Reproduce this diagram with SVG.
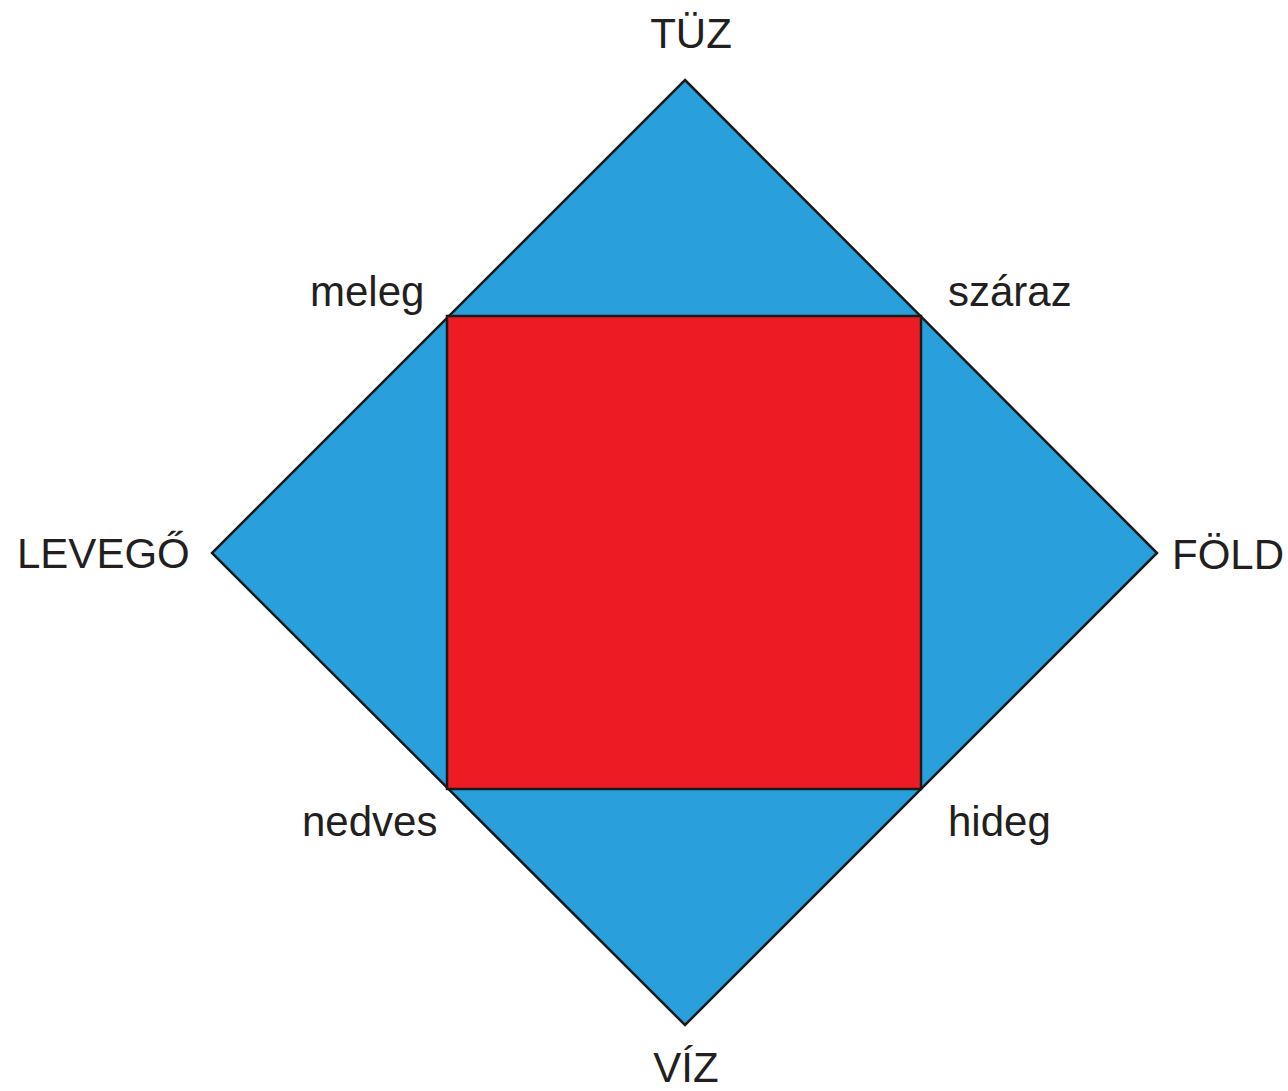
<svg xmlns="http://www.w3.org/2000/svg" width="1288" height="1091" viewBox="0 0 1288 1091">
<style>
text{font-family:"Liberation Sans",Arial,sans-serif;font-size:42px;fill:#231f20}
.s{stroke:#1a1a1a;stroke-width:2.5;stroke-linejoin:miter}
</style>
<rect width="1288" height="1091" fill="#ffffff"/>
<g id="diamond"><polygon class="s" points="685,80 1157,553 685,1025 212,553" fill="#29a0dc"/></g>
<g id="square"><rect class="s" x="447" y="316" width="474" height="473" fill="#ed1c24"/></g>
<g id="labels">
<text x="691" y="48" text-anchor="middle">TÜZ</text>
<text x="686" y="1082" text-anchor="middle">VÍZ</text>
<text x="17" y="568">LEVEGŐ</text>
<text x="1172" y="569">FÖLD</text>
<text x="310" y="306">meleg</text>
<text x="948" y="306">száraz</text>
<text x="302" y="836">nedves</text>
<text x="948" y="836">hideg</text>
</g>
<g id="connectors"/>
</svg>
